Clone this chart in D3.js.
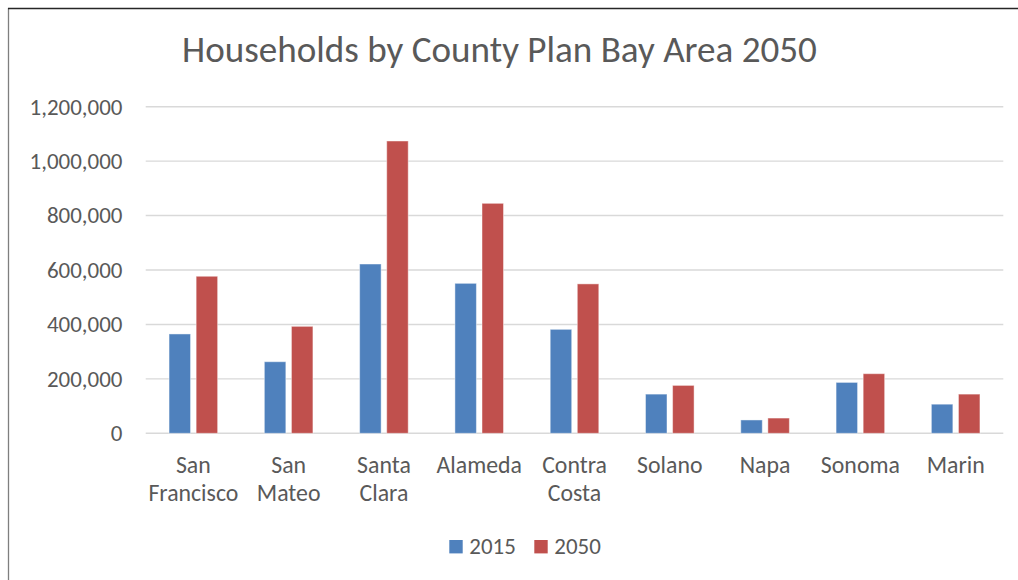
<!DOCTYPE html>
<html>
<head>
<meta charset="utf-8">
<script src="https://cdn.jsdelivr.net/npm/d3@7"></script>
<style>
  html, body { margin: 0; padding: 0; background: #fff; }
  svg { display: block; }
  text { font-family: Carlito, Calibri, Lato, "Open Sans", sans-serif; fill: #595959; }
</style>
</head>
<body>
<svg id="chart" width="1018" height="580"></svg>
<script>
// ---- data ----
const title = "Households by County Plan Bay Area 2050";
const categories = ["San Francisco", "San Mateo", "Santa Clara", "Alameda", "Contra Costa", "Solano", "Napa", "Sonoma", "Marin"];
const seriesNames = ["2015", "2050"];
const values2015 = [365000, 263000, 622000, 551000, 382000, 144000, 49000, 187000, 107000];
const values2050 = [577000, 393000, 1074000, 845000, 549000, 176000, 56000, 219000, 144000];
const yTicks = [0, 200000, 400000, 600000, 800000, 1000000, 1200000];
const colors = ["#4F81BD", "#C0504D"];

const seriesValues = [values2015, values2050];
const rows = categories.map((c, i) => ({ cat: c, vals: seriesNames.map((s, j) => ({ s, v: seriesValues[j][i], j })) }));

const svg = d3.select("#chart");

// frame
svg.append("line").attr("x1", 8.5).attr("x2", 8.5).attr("y1", 8).attr("y2", 580)
  .attr("stroke", "#7f7f7f").attr("stroke-width", 1.3);
svg.append("line").attr("x1", 8).attr("x2", 1018).attr("y1", 8.5).attr("y2", 8.5)
  .attr("stroke", "#262626").attr("stroke-width", 1.3);

// fit helper: set font size so that a text's width equals target
function fitSize(sample, target, base, weight) {
  const t = svg.append("text").attr("font-size", base).attr("font-weight", weight || 400).text(sample);
  const w = t.node().getComputedTextLength();
  t.remove();
  return base * target / w;
}

const plotL = 145.7, plotR = 1003.3, plotT = 106.7, plotB = 433.3;

const x0 = d3.scaleBand().domain(categories).range([plotL, plotR]).paddingInner(0).paddingOuter(0);
const x1 = d3.scaleBand().domain(seriesNames).range([0, x0.bandwidth()]).paddingInner(0.2066).paddingOuter(0.862);
const y = d3.scaleLinear().domain([0, 1200000]).range([plotB, plotT]);

// gridlines
svg.append("g").selectAll("line").data(yTicks).join("line")
  .attr("x1", plotL).attr("x2", plotR)
  .attr("y1", d => y(d)).attr("y2", d => y(d))
  .attr("stroke", "#d9d9d9").attr("stroke-width", 1.4);

// y labels
const yFs = fitSize("1,200,000", 93, 20);
const fmt = d3.format(",");
svg.append("g").selectAll("text").data(yTicks).join("text")
  .attr("x", 122.5).attr("y", d => y(d)).attr("dy", "0.34em")
  .attr("text-anchor", "end").attr("font-size", yFs)
  .text(d => fmt(d));

// bars
const groups = svg.append("g").selectAll("g").data(rows).join("g")
  .attr("transform", d => `translate(${x0(d.cat)},0)`);
groups.selectAll("rect").data(d => d.vals).join("rect")
  .attr("x", d => x1(d.s)).attr("width", x1.bandwidth())
  .attr("y", d => y(d.v)).attr("height", d => y(0) - y(d.v))
  .attr("fill", d => colors[d.j])
  .attr("stroke", "#fff").attr("stroke-opacity", 0.45).attr("stroke-width", 1);

// category labels
const cFs = fitSize("Francisco", 90, 20);
const catG = svg.append("g").selectAll("text").data(categories).join("text")
  .attr("text-anchor", "middle").attr("font-size", cFs)
  .attr("transform", d => `translate(${x0(d) + x0.bandwidth() / 2},0)`);
catG.selectAll("tspan").data(d => d.split(" ")).join("tspan")
  .attr("x", 0).attr("y", (d, i) => 472.5 + i * 28.4).text(d => d);

// title
const tFs = fitSize(title, 635, 32, 300);
svg.append("text").attr("x", 499.5).attr("y", 62).attr("text-anchor", "middle")
  .attr("font-size", tFs).attr("font-weight", 300).text(title);

// legend
const lFs = fitSize("2015", 46.5, 20);
const legX = [449.3, 534.3];
const leg = svg.append("g").selectAll("g").data(seriesNames).join("g")
  .attr("transform", (d, i) => `translate(${legX[i]},540)`);
leg.append("rect").attr("width", 13.4).attr("height", 13.4).attr("fill", (d, i) => colors[i]);
leg.append("text").attr("x", 20).attr("y", 14.3).attr("font-size", lFs).text(d => d);
</script>
</body>
</html>
